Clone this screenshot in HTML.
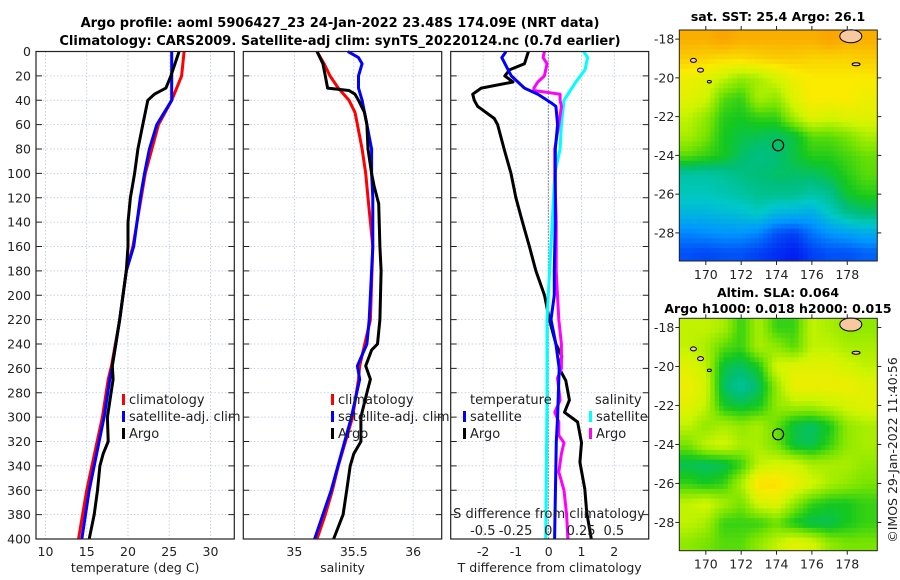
<!DOCTYPE html>
<html><head><meta charset="utf-8"><style>
html,body{margin:0;padding:0;background:#fff}
svg{display:block;font-family:"DejaVu Sans","Liberation Sans",sans-serif}
</style></head><body>
<svg id="fig" width="900" height="580" viewBox="0 0 900 580" xmlns="http://www.w3.org/2000/svg">
<text x="340" y="27" text-anchor="middle" font-size="13" font-weight="bold">Argo profile: aoml 5906427_23 24-Jan-2022 23.48S 174.09E (NRT data)</text>
<text x="340" y="45" text-anchor="middle" font-size="13" font-weight="bold">Climatology: CARS2009. Satellite-adj clim: synTS_20220124.nc (0.7d earlier)</text>
<text x="778" y="21" text-anchor="middle" font-size="12.5" font-weight="bold">sat. SST: 25.4 Argo: 26.1</text>
<text x="778" y="297" text-anchor="middle" font-size="12.5" font-weight="bold">Altim. SLA: 0.064</text>
<text x="778" y="313" text-anchor="middle" font-size="12.5" font-weight="bold">Argo h1000: 0.018 h2000: 0.015</text>
<text transform="translate(897,450) rotate(-90)" text-anchor="middle" font-size="12.5" fill="#222">©IMOS 29-Jan-2022 11:40:56</text>
<g id="layer"></g>
</svg>
<script>
// ---------- data ----------
const depthTicks=[0,20,40,60,80,100,120,140,160,180,200,220,240,260,280,300,320,340,360,380,400];
const tempTicks=[10,15,20,25,30];
const salTicks=[35,35.5,36];
const tdiffTicks=[-2,-1,0,1,2];
const sdiffTickLabels=["-0.5","-0.25","0","0.25","0.5"];
const sdiffTicks=[-0.5,-0.25,0,0.25,0.5];

const tClimDepth=[0,20,40,60,80,100,120,160,180,220,258,269,300,360,400];
const tClim=[26.8,26.5,25.3,23.7,22.9,22.1,21.6,20.6,19.8,19.0,18.0,17.6,16.9,15.0,14.0];
const tSatDepth=[0,20,40,60,80,100,120,160,180,220,258,269,300,360,400];
const tSat=[25.3,25.3,25.3,23.5,22.6,22.0,21.5,20.7,19.8,19.0,18.1,17.8,17.1,15.3,14.4];
const tArgoDepth=[0,20,30,35,40,60,80,100,120,140,160,180,220,258,269,300,320,330,340,360,380,400];
const tArgo=[26.2,25.2,24.6,23.2,22.4,21.8,21.2,20.8,20.3,20.0,20.0,19.8,19.0,18.1,18.2,17.5,17.6,17.0,16.6,16.3,15.9,15.3];

const sClimDepth=[0,10,20,30,40,50,60,80,100,120,160,220,258,269,300,320,340,360,380,400];
const sClim=[35.19,35.25,35.30,35.37,35.46,35.51,35.53,35.57,35.60,35.62,35.66,35.64,35.55,35.54,35.49,35.43,35.37,35.32,35.26,35.19];
const sSatDepth=[0,5,10,20,30,40,60,80,100,120,160,220,240,258,269,300,360,400];
const sSat=[35.45,35.54,35.57,35.54,35.54,35.57,35.61,35.65,35.65,35.66,35.66,35.63,35.61,35.53,35.55,35.48,35.31,35.17];
const sArgoDepth=[0,10,20,30,32,35,40,50,60,80,100,110,125,160,180,220,240,245,258,269,280,300,320,330,340,360,380,400];
const sArgo=[35.19,35.24,35.26,35.28,35.46,35.51,35.54,35.59,35.61,35.62,35.65,35.67,35.71,35.72,35.73,35.72,35.70,35.65,35.60,35.64,35.61,35.56,35.56,35.50,35.47,35.44,35.41,35.33];

const dTArgoDepth=[0,10,15,20,25,30,35,40,45,55,60,80,100,120,140,160,180,200,220,240,250,260,270,286,296,304,321,337,359,378,400];
const dTArgo=[-0.62,-0.74,-1.19,-1.34,-1.09,-2.06,-2.32,-2.27,-2.17,-1.66,-1.56,-1.36,-1.15,-1.0,-0.8,-0.59,-0.39,-0.13,0.02,0.22,0.40,0.32,0.52,0.63,0.48,0.88,1.0,0.95,1.1,1.16,1.3];
const dTSatDepth=[0,5,15,20,30,35,42,45,60,80,100,140,180,200,220,240,260,300,320,400];
const dTSat=[-1.30,-1.43,-1.24,-1.14,-0.74,-0.33,0.07,0.22,0.27,0.20,0.20,0.20,0.17,0.17,0.07,0.22,0.32,0.27,0.23,0.18];
const dSArgoDepth=[0,5,10,20,25,30,32,35,40,45,60,80,100,140,180,220,240,260,268,286,296,304,315,321,330,345,360,380,400];
const dSArgo=[-0.03,-0.04,-0.01,-0.03,-0.08,-0.11,-0.11,0.09,0.09,0.10,0.08,0.05,0.05,0.06,0.06,0.08,0.10,0.10,0.07,0.09,0.05,0.08,0.08,0.12,0.10,0.08,0.12,0.14,0.15];
const dSSatDepth=[0,5,15,25,40,60,80,100,140,180,220,260,286,400];
const dSSat=[0.27,0.30,0.28,0.21,0.12,0.10,0.09,0.05,0.03,0.01,-0.01,-0.01,-0.01,-0.02];

const mapLonTicks=[170,172,174,176,178];
const mapLatTicks=[-18,-20,-22,-24,-26,-28];
const sstGrid=[
[0.80,0.80,0.82,0.80,0.80,0.80,0.80,0.80,0.82,0.80,0.80],
[0.76,0.75,0.74,0.74,0.75,0.76,0.76,0.75,0.75,0.75,0.76],
[0.70,0.68,0.64,0.60,0.62,0.66,0.70,0.72,0.72,0.72,0.72],
[0.68,0.66,0.56,0.54,0.62,0.60,0.68,0.72,0.72,0.72,0.70],
[0.64,0.60,0.53,0.52,0.54,0.54,0.62,0.68,0.66,0.68,0.68],
[0.62,0.58,0.52,0.50,0.49,0.48,0.50,0.56,0.56,0.58,0.62],
[0.56,0.54,0.52,0.48,0.46,0.47,0.50,0.53,0.53,0.55,0.57],
[0.43,0.43,0.44,0.46,0.47,0.48,0.48,0.48,0.50,0.53,0.56],
[0.41,0.41,0.42,0.43,0.45,0.45,0.45,0.43,0.45,0.51,0.53],
[0.36,0.36,0.37,0.38,0.40,0.36,0.35,0.34,0.40,0.45,0.47],
[0.28,0.29,0.30,0.30,0.28,0.22,0.20,0.26,0.30,0.32,0.34],
[0.22,0.21,0.22,0.22,0.20,0.18,0.16,0.20,0.22,0.22,0.24]];
const slaGrid=[
[0.64,0.64,0.62,0.54,0.62,0.54,0.54,0.64,0.62,0.60,0.60],
[0.64,0.62,0.56,0.54,0.62,0.60,0.56,0.64,0.64,0.62,0.62],
[0.68,0.64,0.50,0.48,0.52,0.66,0.68,0.68,0.68,0.66,0.64],
[0.70,0.66,0.48,0.44,0.48,0.60,0.70,0.70,0.70,0.70,0.68],
[0.68,0.64,0.52,0.50,0.52,0.60,0.62,0.62,0.64,0.66,0.68],
[0.64,0.60,0.62,0.60,0.62,0.57,0.50,0.48,0.52,0.60,0.62],
[0.58,0.64,0.66,0.62,0.62,0.58,0.50,0.49,0.54,0.60,0.62],
[0.49,0.48,0.49,0.54,0.64,0.66,0.66,0.62,0.62,0.62,0.60],
[0.54,0.52,0.54,0.62,0.74,0.74,0.70,0.66,0.62,0.60,0.58],
[0.64,0.66,0.62,0.58,0.66,0.68,0.60,0.54,0.52,0.52,0.54],
[0.64,0.62,0.54,0.54,0.54,0.57,0.52,0.49,0.49,0.52,0.54],
[0.60,0.58,0.56,0.56,0.60,0.64,0.68,0.66,0.60,0.58,0.58]];

// ---------- helpers ----------
const NS="http://www.w3.org/2000/svg";
const layer=document.getElementById('layer');
function el(tag,attrs,parent){const e=document.createElementNS(NS,tag);for(const k in attrs)e.setAttribute(k,attrs[k]);(parent||layer).appendChild(e);return e;}
function txt(x,y,s,size,anchor,parent){const t=el('text',{x:x,y:y,'font-size':size,'text-anchor':anchor||'middle',fill:'#222'},parent);t.textContent=s;return t;}

const Y0=51.5,Y1=539;
function yD(d){return Y0+(Y1-Y0)*d/400;}
const P1={x0:36,x1:234.3,v0:8.85,v1:32.89};
const P2={x0:243.3,x1:441.7,v0:34.57,v1:36.24};
const P3={x0:450.7,x1:648.7,v0:-2.99,v1:3.05};
function xP(p,v){return p.x0+(p.x1-p.x0)*(v-p.v0)/(p.v1-p.v0);}
const S0=548.3,SK=131;
function xS(v){return S0+SK*v;}

function panel(p,name,xt,xlabels,xtitle,showY){
  const g=el('g',{});
  
  
  xt.forEach(v=>{const l=el('line',{x1:xP(p,v),x2:xP(p,v),y1:Y0,y2:Y1,stroke:'#b8c4e8','stroke-width':0.8,'stroke-dasharray':'1.5,2'},g);
    });
  depthTicks.forEach(d=>{const l=el('line',{x1:p.x0,x2:p.x1,y1:yD(d),y2:yD(d),stroke:'#b8c4e8','stroke-width':0.8,'stroke-dasharray':'1.5,2'},g);
    });
  depthTicks.forEach(d=>{
    el('line',{x1:p.x0,x2:p.x0+6,y1:yD(d),y2:yD(d),stroke:'#222','stroke-width':1},g);
    el('line',{x1:p.x1-6,x2:p.x1,y1:yD(d),y2:yD(d),stroke:'#222','stroke-width':1},g);
    if(showY){const t=txt(p.x0-5,yD(d)+4.5,String(d),12.5,'end',g);
      }
  });
  xt.forEach((v,i)=>{const t=txt(xP(p,v),556,xlabels[i],12.5,'middle',g);
    });
  const tt=txt((p.x0+p.x1)/2,572,xtitle,12.5,'middle',g);
  
  return g;
}
function frame(p,g){const r=el('rect',{x:p.x0,y:Y0,width:p.x1-p.x0,height:Y1-Y0,fill:'none',stroke:'#222','stroke-width':1.2},g);
  }
function series(xf,vals,depths,color,name,g){
  const pts=vals.map((v,i)=>xf(v).toFixed(1)+','+yD(depths[i]).toFixed(1)).join(' ');
  const l=el('polyline',{points:pts,fill:'none',stroke:color,'stroke-width':3,'stroke-linejoin':'round'},g);
  
}
function legend(x,y,color,label,g,name){
  const r=el('rect',{x:x,y:y-10,width:3,height:11,fill:color},g);
  
  const t=txt(x+7,y,label,13,'start',g);
  
}

// Panel 1 temperature
const g1=panel(P1,'temperature-panel',tempTicks,tempTicks.map(String),'temperature (deg C)',true);
series(v=>xP(P1,v),tClim,tClimDepth,'#ff0000','temp-climatology-line',g1);
series(v=>xP(P1,v),tSat,tSatDepth,'#0000ff','temp-satellite-line',g1);
series(v=>xP(P1,v),tArgo,tArgoDepth,'#000000','temp-argo-line',g1);
legend(122,404,'#ff0000','climatology',g1,'legend-climatology');
legend(122,421,'#0000ff','satellite-adj. clim',g1,'legend-satellite');
legend(122,438,'#000000','Argo',g1,'legend-argo');
frame(P1,g1);

// Panel 2 salinity
const g2=panel(P2,'salinity-panel',salTicks,salTicks.map(String),'salinity',false);
series(v=>xP(P2,v),sClim,sClimDepth,'#ff0000','sal-climatology-line',g2);
series(v=>xP(P2,v),sSat,sSatDepth,'#0000ff','sal-satellite-line',g2);
series(v=>xP(P2,v),sArgo,sArgoDepth,'#000000','sal-argo-line',g2);
legend(331,404,'#ff0000','climatology',g2,'legend-climatology');
legend(331,421,'#0000ff','satellite-adj. clim',g2,'legend-satellite');
legend(331,438,'#000000','Argo',g2,'legend-argo');
frame(P2,g2);

// Panel 3 differences
const g3=panel(P3,'difference-panel',tdiffTicks,tdiffTicks.map(String),'T difference from climatology',false);
const zl=el('line',{x1:xS(0),x2:xS(0),y1:Y0,y2:Y1,stroke:'#333','stroke-width':1,'stroke-dasharray':'1,2'},g3);

series(v=>xP(P3,v),dTArgo,dTArgoDepth,'#000000','tdiff-argo-line',g3);
series(xS,dSSat,dSSatDepth,'#00ffff','sdiff-satellite-line',g3);
series(xS,dSArgo,dSArgoDepth,'#ff00ff','sdiff-argo-line',g3);
series(v=>xP(P3,v),dTSat,dTSatDepth,'#0000ff','tdiff-satellite-line',g3);
const lt=txt(470,404,'temperature',13,'start',g3);
legend(463,421,'#0000ff','satellite',g3,'legend-t-satellite');
legend(463,438,'#000000','Argo',g3,'legend-t-argo');
const ls=txt(595,404,'salinity',13,'start',g3);
legend(589,421,'#00ffff','satellite',g3,'legend-s-satellite');
legend(589,438,'#ff00ff','Argo',g3,'legend-s-argo');
const st=txt(549,518,'S difference from climatology',13,'middle',g3);
sdiffTicks.forEach((v,i)=>{const t=txt(xS(v),535,sdiffTickLabels[i],13,'middle',g3);
  });
frame(P3,g3);

// ---------- maps ----------
const stops=[[0,[0,0,140]],[0.15,[0,20,240]],[0.3,[0,150,255]],[0.4,[0,200,200]],[0.47,[0,190,120]],[0.52,[20,200,30]],[0.58,[120,228,0]],[0.65,[205,245,0]],[0.72,[250,235,0]],[0.8,[250,175,0]],[1,[255,70,0]]];
function cmap(v){for(let i=1;i<stops.length;i++){if(v<=stops[i][0]){const a=stops[i-1],b=stops[i],t=(v-a[0])/(b[0]-a[0]);
  return 'rgb('+a[1].map((c,k)=>Math.round(c+(b[1][k]-c)*t)).join(',')+')';}}return 'rgb(255,70,0)';}
const LON0=168.5,LON1=179.7,LAT0=-17.53,LAT1=-29.45;
function sample(grid,fr,fc){
  fr=Math.max(0,Math.min(grid.length-1,fr));fc=Math.max(0,Math.min(grid[0].length-1,fc));
  const r0=Math.floor(fr),c0=Math.floor(fc),r1=Math.min(grid.length-1,r0+1),c1=Math.min(grid[0].length-1,c0+1),tr=fr-r0,tc=fc-c0;
  return (grid[r0][c0]*(1-tc)+grid[r0][c1]*tc)*(1-tr)+(grid[r1][c0]*(1-tc)+grid[r1][c1]*tc)*tr;
}
function drawMap(grid,top,bot,name){
  const g=el('g',{});
  
  
  const X0=679.3,X1=877.3;
  const mx=lon=>X0+(X1-X0)*(lon-LON0)/(LON1-LON0);
  const my=lat=>top+(bot-top)*(lat-LAT0)/(LAT1-LAT0);
  const step=0.25;
  for(let lat=LAT0;lat>LAT1;lat-=step){
    for(let lon=LON0;lon<LON1;lon+=step){
      const v=sample(grid,(LAT0-lat+step/2)-0.5,(lon+step/2-LON0)-0.5);
      const x=mx(lon),x2=Math.min(X1,mx(lon+step)+0.6),y=my(lat),y2=Math.min(bot,my(lat-step)+0.6);
      const cell=el('rect',{x:x,y:y,width:x2-x,height:y2-y,fill:cmap(v)},g);
      
      
    }
  }
  const land=el('ellipse',{cx:mx(178.2),cy:my(-17.85),rx:11,ry:6.5,fill:'#f8c8a0',stroke:'#000','stroke-width':1},g);
  
  [[169.3,-19.1,3,2],[169.7,-19.6,3,2],[170.2,-20.2,2,1.2],[178.5,-19.3,4,1.5]].forEach(a=>{
    const i=el('ellipse',{cx:mx(a[0]),cy:my(a[1]),rx:a[2],ry:a[3],fill:'#f8c8a0',stroke:'#000','stroke-width':1},g);
    });
  const c=el('circle',{cx:mx(174.09),cy:my(-23.48),r:5.5,fill:'none',stroke:'#000','stroke-width':1.2},g);
  
  el('rect',{x:X0,y:top,width:X1-X0,height:bot-top,fill:'none',stroke:'#222','stroke-width':1},g);
  mapLatTicks.forEach(l=>{const y=my(l);
    el('line',{x1:X0-4,x2:X0,y1:y,y2:y,stroke:'#222'},g);el('line',{x1:X1,x2:X1+4,y1:y,y2:y,stroke:'#222'},g);
    const t=txt(X0-5,y+4.5,String(l),12.5,'end',g);});
  mapLonTicks.forEach(l=>{const x=mx(l);
    el('line',{x1:x,x2:x,y1:bot,y2:bot+4,stroke:'#222'},g);el('line',{x1:x,x2:x,y1:top-4,y2:top,stroke:'#222'},g);
    const t=txt(x,bot+18,String(l),12.5,'middle',g);});
}
drawMap(sstGrid,30,261,'sst-map');
drawMap(slaGrid,318.3,550.7,'sla-map');
</script>
</body></html>
